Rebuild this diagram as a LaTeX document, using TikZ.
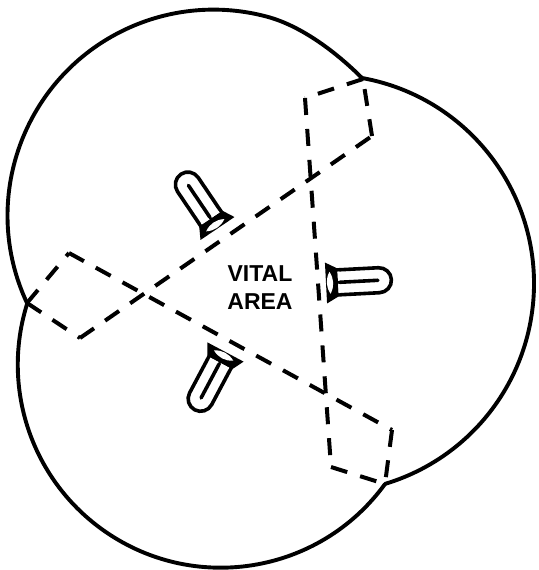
\documentclass[tikz,border=0pt]{standalone}
\usepackage{fontspec}
\setmainfont{Liberation Sans}
\tikzset{
  ring/.style={line width=3.9pt,line cap=round,line join=round},
  dashline/.style={line width=4pt,dash pattern=on 17pt off 13.5pt},
  dashlong/.style={line width=4pt,dash pattern=on 17pt off 14pt},
  bulbline/.style={line width=3.6pt,line join=round,line cap=round},
  label/.style={font=\bfseries\fontsize{23}{28}\selectfont,align=center,inner sep=0pt}
}
\newcommand{\bulbshape}[3]{%
 \begin{scope}[shift={(#1,#2)},rotate=#3]
  \draw[bulbline] (10,-12.5) -- (53,-12.5) arc[start angle=-90,end angle=90,radius=12.5] -- (10,12.5);
  \draw[bulbline] (13,0) -- (52,0);
  \fill (0,-20.5) -- (12,-14) -- (12,14) -- (0,20.5) -- cycle;
  \fill[white] (4,-11) to[bend right=30] (4,11) to[bend right=30] (4,-11);
  \fill[white] (12.2,-10.7) rectangle (14,-1.8);
  \fill[white] (12.2,1.8) rectangle (14,10.7);
 \end{scope}}
\begin{document}
\begin{tikzpicture}[x=1pt,y=-1pt]
\useasboundingbox (0,0) rectangle (538,570);
\coordinate (J1) at (362,78);
\coordinate (J2) at (385,484);
\coordinate (J3) at (27,303);
\coordinate (A) at (305,98);
\coordinate (B) at (363,79);
\coordinate (C) at (372,136);
\coordinate (D) at (80,338);
\coordinate (E) at (27,303);
\coordinate (F) at (69,253);
\coordinate (G) at (392,430);
\coordinate (H) at (385,484);
\coordinate (K) at (331,467);
% circles
\draw[ring] (J3) arc[start angle=154.9,end angle=285,radius=206]
   .. controls (302,26) and (337,53) .. (J1);
\draw[ring] (J1) arc[start angle=-79.8,end angle=73.3,radius=209];
\draw[ring] (J2) arc[start angle=36,end angle=197.3,radius=203];
% dashed
\foreach \p/\q in {B/A,C/B,D/C,E/D,E/F,F/G,G/H,K/H}
  \draw[dashline] (\p) -- (\q);
\draw[dashlong] (A) -- (K);
% bulbs
\bulbshape{217.5}{228.5}{124}
\bulbshape{326}{283}{3}
\bulbshape{225.5}{352}{-118}
\node[label] (vital) at (260,288) {VITAL\\AREA};
\end{tikzpicture}
\end{document}
